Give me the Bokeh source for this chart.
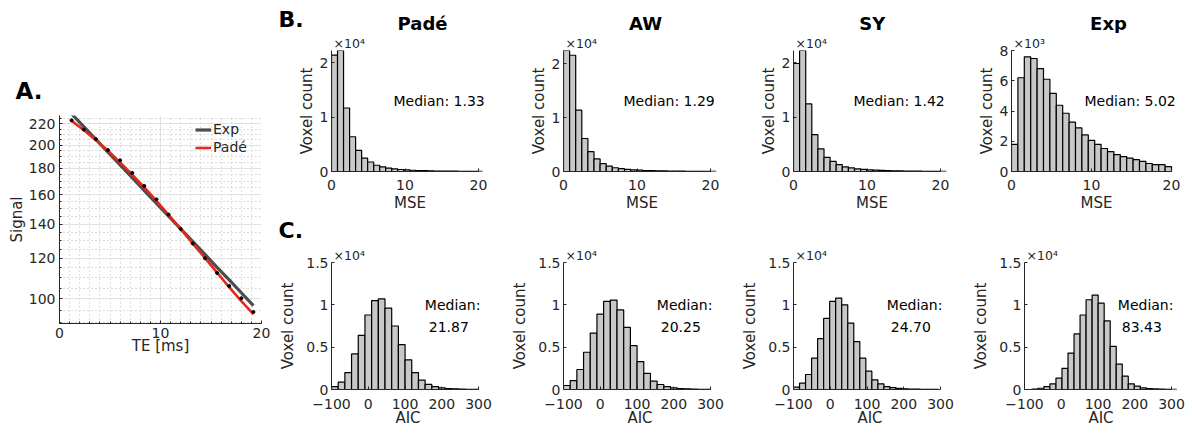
import numpy as np
from bokeh.plotting import figure
from bokeh.layouts import row, column
from bokeh.models import (Range1d, FixedTicker, Label, Legend, LegendItem,
                          PrintfTickFormatter, Title)
from bokeh.core.properties import value
from bokeh.embed import file_html
from bokeh.resources import INLINE

FONT = "DejaVu Sans"
AXC = "#262626"
BAR_FILL = "#c8c8c8"

# ---------------- Panel A data ----------------
te_ms = [1.2, 2.4, 3.6, 4.8, 6.0, 7.2, 8.4, 9.6, 10.8, 12.0, 13.2, 14.4, 15.6, 16.8, 18.0, 19.2]
signal = [223.6, 214.4, 205.5, 195.5, 186.7, 176.4, 166.4, 156.6, 146.2, 137.0, 128.3, 120.1, 112.4, 106.0, 100.3, 94.3]
fit_exp = [230.2, 217.3, 205.2, 193.7, 182.8, 172.6, 162.9, 153.8, 145.2, 137.1, 129.4, 122.2, 115.3, 108.9, 102.8, 97.0]
fit_pade = [223.0, 214.0, 204.5, 195.0, 185.0, 175.0, 165.2, 155.5, 146.0, 137.0, 128.3, 120.3, 112.6, 105.4, 99.0, 93.4]
a_yticks = [100, 120, 140, 160, 180, 200, 220]
a_yminor = [90, 95, 105, 110, 115, 125, 130, 135, 145, 150, 155, 165, 170, 175, 185, 190, 195, 205, 210, 215, 225]

# ---------------- Panel B data (MSE histograms) ----------------
models = ["Padé", "AW", "SY", "Exp"]
mse_bin_width = [0.82, 0.83, 0.83, 0.80]
mse_counts = {
    "Padé": [21450, 22300, 11700, 6400, 3900, 2450, 1750, 1150, 870, 640, 480, 370, 290, 230, 180, 145, 115, 95, 80, 65, 55, 45, 38, 32, 27],
    "AW":   [22450, 21570, 11370, 6120, 3670, 2330, 1460, 990, 700, 520, 400, 310, 240, 190, 150, 120, 100, 80, 65, 55, 45, 38, 32, 27, 22],
    "SY":   [19900, 22300, 12460, 6780, 4170, 2600, 1860, 1280, 870, 650, 500, 390, 300, 240, 190, 150, 120, 100, 80, 65, 55, 45, 38, 32, 27],
    "Exp":  [1790, 6200, 7580, 7470, 6800, 6100, 5160, 4380, 3850, 3260, 2880, 2420, 2060, 1790, 1520, 1310, 1120, 990, 880, 780, 670, 530, 460, 460, 320],
}
mse_ymax = [22300, 22450, 22300, 8000]
mse_median = ["1.33", "1.29", "1.42", "5.02"]

# ---------------- Panel C data (AIC histograms) ----------------
aic_bin_start = [-100, -100, -100, -80]
aic_bin_width = [18.2, 18.2, 16.4, 16.4]
aic_counts = {
    "Padé": [350, 860, 2000, 4200, 6400, 8800, 10500, 10700, 9600, 7500, 5300, 3500, 2000, 1100, 600, 350, 200, 120, 80, 50, 30, 20],
    "AW":   [470, 1060, 2360, 4400, 6670, 8900, 10400, 10560, 9400, 7340, 5180, 3300, 1900, 980, 590, 350, 200, 120, 80, 50, 30, 20],
    "SY":   [270, 750, 1770, 3700, 6000, 8400, 10400, 10800, 10000, 7850, 5650, 3700, 2160, 1140, 670, 350, 220, 140, 90, 60, 40, 25, 15, 10],
    "Exp":  [50, 150, 350, 670, 1340, 2500, 4300, 6560, 8800, 10600, 11150, 10200, 8100, 5100, 3000, 1570, 670, 400, 200, 120, 70, 40, 25, 15],
}
aic_median = ["21.87", "20.25", "24.70", "83.43"]


def style_axes(p, tick_fs="14px", label_fs="15px"):
    p.outline_line_color = None
    p.background_fill_color = "white"
    p.border_fill_color = "white"
    for ax in (p.xaxis[0], p.yaxis[0]):
        ax.axis_line_color = AXC
        ax.axis_line_width = 1
        ax.major_tick_line_color = AXC
        ax.minor_tick_line_color = AXC
        ax.major_tick_in = 3
        ax.major_tick_out = 0
        ax.minor_tick_in = 0
        ax.minor_tick_out = 0
        ax.major_label_text_font = FONT
        ax.major_label_text_font_size = tick_fs
        ax.major_label_text_color = AXC
        ax.axis_label_text_font = FONT
        ax.axis_label_text_font_size = label_fs
        ax.axis_label_text_font_style = "normal"
        ax.axis_label_text_color = AXC


def add_label(p, x, y, text, size, bold=False, align="left", baseline="middle", color="black"):
    p.add_layout(Label(x=x, y=y, text=text, text_font=FONT, text_font_size=size,
                       text_font_style="bold" if bold else "normal",
                       text_align=align, text_baseline=baseline, text_color=color))


def px_lin(r0, r1, size, d):
    return r0 + d * (r1 - r0) / size


def strip(width, height, x0, y0):
    s = figure(width=width, height=height, x_range=Range1d(x0, x0 + width),
               y_range=Range1d(y0 + height, y0), output_backend="svg", toolbar_location=None,
               x_axis_location=None, y_axis_location=None, min_border=0)
    s.outline_line_color = None
    s.grid.visible = False
    s.background_fill_color = "white"
    s.border_fill_color = "white"
    return s


def bold_text(s, xs, ys, texts, size, align="left"):
    s.text(x=xs, y=ys, text=texts, text_font=value(FONT), text_font_size=size,
           text_font_style="bold", text_align=align, text_baseline="middle",
           text_color="black")


# ---------------- Panel A ----------------
A_W = 276
STRIP_A_H = 105
A_H = 326
A_L, A_R, A_T, A_B = 59, 15, 10, 108
ay0, ay1 = 89.5, 228.5
pa = figure(width=A_W, height=A_H, x_range=Range1d(0, 20), y_range=Range1d(ay0, ay1),
            y_axis_type="log", output_backend="svg", toolbar_location=None,
            min_border_left=A_L, min_border_right=A_R, min_border_top=A_T, min_border_bottom=A_B)
style_axes(pa)
pa.xaxis.ticker = FixedTicker(ticks=[0, 10, 20], minor_ticks=list(range(0, 21)))
pa.yaxis.ticker = FixedTicker(ticks=a_yticks, minor_ticks=a_yminor)
pa.yaxis.formatter = PrintfTickFormatter(format="%d")
pa.xaxis.minor_tick_in = 2
pa.yaxis.minor_tick_in = 2
pa.xaxis.axis_label = "TE [ms]"
pa.yaxis.axis_label = "Signal"
pa.xaxis.major_label_standoff = 4
pa.xaxis.axis_label_standoff = -4
pa.yaxis.major_label_standoff = 4
pa.yaxis.axis_label_standoff = 0
for g in (pa.xgrid[0], pa.ygrid[0]):
    g.grid_line_color = "#e2e2e2"
    g.grid_line_width = 1
    g.minor_grid_line_color = "#bdbdbd"
    g.minor_grid_line_dash = "1 3"
    g.minor_grid_line_width = 1

r_exp = pa.line(te_ms, fit_exp, line_color="#4d4d4d", line_width=3.2)
r_pade = pa.line(te_ms, fit_pade, line_color="#e8261c", line_width=2.6)
pa.scatter(te_ms, signal, size=3, color="black")
leg = Legend(items=[LegendItem(label="Exp", renderers=[r_exp]),
                    LegendItem(label="Padé", renderers=[r_pade])],
             location=(136, 168), border_line_color=None, background_fill_alpha=0,
             label_text_font=FONT, label_text_font_size="14px", label_text_color=AXC,
             glyph_width=16, glyph_height=13, label_height=13, label_standoff=2,
             spacing=2, padding=2, margin=0)
pa.add_layout(leg, "center")

sa = strip(A_W, STRIP_A_H, 0, 0)
bold_text(sa, [15], [90], ["A."], "23px")

# ---------------- Panels B and C ----------------
cell_w = [232, 230, 225, 227]
left_b = [55, 55, 55, 48]
left_c = [55, 55, 55, 61]
frame_b = [147, 147, 147, 160]
EXT_B, EXT_C = 10, 6
STRIP_B_H = 33
B_H, B_T, B_B = 181, 17, 36
STRIP_C_H = 29
C_H, C_T, C_B = 188, 19, 42
mse_med_dx = [62, 60, 60, 73]

figs_b, figs_c = [], []
for i, m in enumerate(models):
    # ---- B ----
    fw = frame_b[i]
    fwe = fw + EXT_B
    right = cell_w[i] - left_b[i] - fwe
    fh = B_H - B_T - B_B
    ymax = mse_ymax[i]
    pb = figure(width=cell_w[i], height=B_H, x_range=Range1d(0, 20 * fwe / fw), y_range=Range1d(0, ymax),
                output_backend="svg", toolbar_location=None,
                min_border_left=left_b[i], min_border_right=right,
                min_border_top=B_T, min_border_bottom=B_B)
    style_axes(pb)
    pb.grid.visible = False
    counts = mse_counts[m]
    w = mse_bin_width[i]
    lefts = [k * w for k in range(len(counts))]
    rights = [(k + 1) * w for k in range(len(counts))]
    pb.quad(left=lefts, right=rights, bottom=0, top=counts,
            fill_color=BAR_FILL, line_color="black", line_width=1.2)
    pb.xaxis.ticker = FixedTicker(ticks=[0, 10, 20])
    pb.xaxis.bounds = (0, 20)
    if m == "Exp":
        yt = [0, 2000, 4000, 6000, 8000]
        pb.yaxis.major_label_overrides = {t: str(t // 1000) for t in yt}
        mult = "×10³"
    else:
        yt = [0, 10000, 20000]
        pb.yaxis.major_label_overrides = {t: str(t // 10000) for t in yt}
        mult = "×10⁴"
    pb.yaxis.ticker = FixedTicker(ticks=yt)
    pb.xaxis.axis_label = "MSE"
    pb.yaxis.axis_label = "Voxel count"
    pb.xaxis.major_label_standoff = 8
    pb.xaxis.axis_label_standoff = 1
    pb.yaxis.major_label_standoff = 3
    pb.yaxis.axis_label_standoff = 1
    pb.add_layout(Title(text=mult, align="left", offset=2, standoff=0, vertical_align="bottom",
                        text_font=FONT, text_font_size="12.5px", text_font_style="normal",
                        text_color=AXC), "above")
    add_label(pb, px_lin(0, 20, fw, mse_med_dx[i]), px_lin(0, ymax, fh, 75),
              "Median: " + mse_median[i], "14px")
    figs_b.append(pb)

    # ---- C ----
    fw = 147
    fwe = fw + EXT_C
    right = cell_w[i] - left_c[i] - fwe
    fh = C_H - C_T - C_B
    ymax = 15000
    pc = figure(width=cell_w[i], height=C_H, x_range=Range1d(-100, -100 + 400 * fwe / fw),
                y_range=Range1d(0, ymax),
                output_backend="svg", toolbar_location=None,
                min_border_left=left_c[i], min_border_right=right,
                min_border_top=C_T, min_border_bottom=C_B)
    style_axes(pc)
    pc.grid.visible = False
    counts = aic_counts[m]
    w = aic_bin_width[i]
    s0 = aic_bin_start[i]
    lefts = [s0 + k * w for k in range(len(counts))]
    rights = [s0 + (k + 1) * w for k in range(len(counts))]
    pc.quad(left=lefts, right=rights, bottom=0, top=counts,
            fill_color=BAR_FILL, line_color="black", line_width=1.2)
    pc.xaxis.ticker = FixedTicker(ticks=[-100, 0, 100, 200, 300])
    pc.xaxis.bounds = (-100, 300)
    yt = [0, 5000, 10000, 15000]
    pc.yaxis.ticker = FixedTicker(ticks=yt)
    pc.yaxis.major_label_overrides = {0: "0", 5000: "0.5", 10000: "1", 15000: "1.5"}
    pc.xaxis.axis_label = "AIC"
    pc.yaxis.axis_label = "Voxel count"
    pc.xaxis.major_label_standoff = 9
    pc.xaxis.axis_label_standoff = -3
    pc.yaxis.major_label_standoff = 3
    pc.yaxis.axis_label_standoff = 6
    pc.add_layout(Title(text="×10⁴", align="left", offset=2, standoff=0, vertical_align="bottom",
                        text_font=FONT, text_font_size="12.5px", text_font_style="normal",
                        text_color=AXC), "above")
    add_label(pc, px_lin(-100, 300, fw, 93.3), px_lin(0, ymax, fh, 85), "Median:", "14px")
    add_label(pc, px_lin(-100, 300, fw, 97.3), px_lin(0, ymax, fh, 63), aic_median[i], "14px")
    figs_c.append(pc)

RIGHT_X0 = A_W
RIGHT_W = sum(cell_w)
sb = strip(RIGHT_W, STRIP_B_H, RIGHT_X0, 0)
title_x = [422, 645, 871.7, 1108]
bold_text(sb, title_x, [22.5] * 4, models, "18px", align="center")
bold_text(sb, [278], [18.5], ["B."], "22px")

sc = strip(RIGHT_W, STRIP_C_H, RIGHT_X0, STRIP_B_H + B_H)
bold_text(sc, [278], [230], ["C."], "22px")

left_col = column(row(sa), pa)
right_col = column(row(sb), row(*figs_b), row(sc), row(*figs_c))
layout = row(left_col, right_col)
open("out.html", "w").write(file_html(layout, INLINE))
